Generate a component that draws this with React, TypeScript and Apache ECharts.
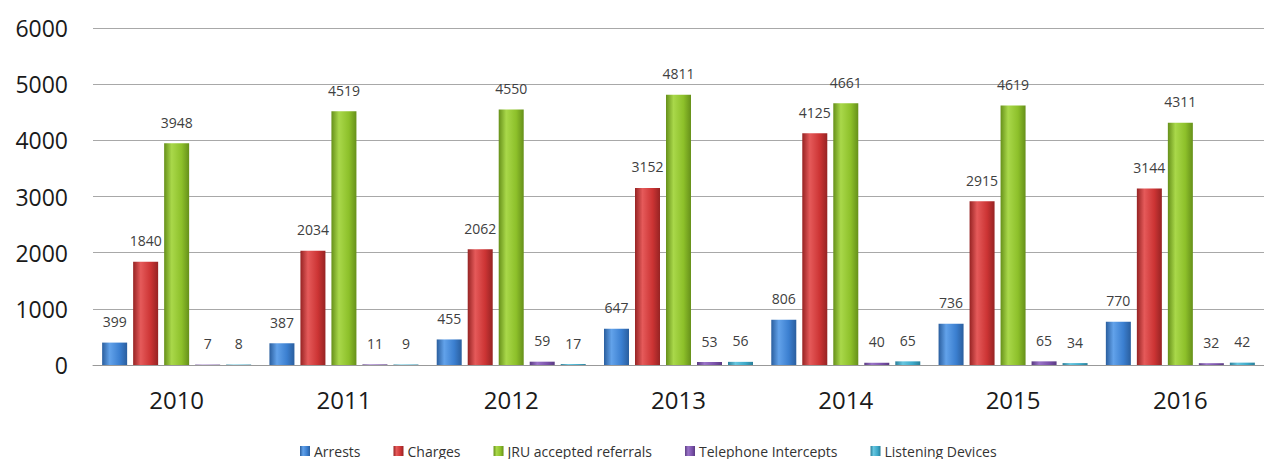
import React, { useEffect, useRef } from "react";
import * as echarts from "echarts";

const years = ["2010", "2011", "2012", "2013", "2014", "2015", "2016"];
const arrests = [399, 387, 455, 647, 806, 736, 770];
const charges = [1840, 2034, 2062, 3152, 4125, 2915, 3144];
const jruReferrals = [3948, 4519, 4550, 4811, 4661, 4619, 4311];
const telephoneIntercepts = [7, 11, 59, 53, 40, 65, 32];
const listeningDevices = [8, 9, 17, 56, 65, 34, 42];

const seriesNames = ["Arrests", "Charges", "JRU accepted referrals", "Telephone Intercepts", "Listening Devices"];
const seriesData = [arrests, charges, jruReferrals, telephoneIntercepts, listeningDevices];
const baseColors = ["#3b7fd0", "#cc3434", "#8dc02a", "#7b52ab", "#3ca9c9"];
const darkColors = ["#2a5e9e", "#962323", "#66901a", "#5a3a82", "#2a7f99"];
const lightColors = ["#62a2ea", "#e55a5a", "#a9d84a", "#9a74c8", "#66c6e0"];

export default function App() {
  const ref = useRef<HTMLDivElement>(null);
  useEffect(() => {
    if (!ref.current) return;
    const chart = echarts.init(ref.current, null, { renderer: "svg" });
    const font = "'Open Sans', 'Liberation Sans', sans-serif";
    chart.setOption({
      animation: false,
      backgroundColor: "#ffffff",
      textStyle: { fontFamily: font },
      grid: { left: 93, right: 0, top: 28, bottom: 94, containLabel: false },
      legend: {
        bottom: 1,
        left: 300,
        padding: 0,
        itemWidth: 10,
        itemHeight: 10,
        itemGap: 33,
        icon: "rect",
        textStyle: { fontSize: 14, color: "#333", fontFamily: font, padding: [0, 0, 0, -1] },
        data: seriesNames,
      },
      xAxis: {
        type: "category",
        data: years,
        axisLine: { show: true, lineStyle: { color: "#999", width: 1 } },
        axisTick: { show: false },
        axisLabel: { fontSize: 24, color: "#1a1a1a", margin: 22, fontFamily: font },
      },
      yAxis: {
        type: "value",
        min: 0,
        max: 6000,
        interval: 1000,
        axisLine: { show: false },
        axisTick: { show: false },
        axisLabel: {
          fontSize: 23,
          color: "#1a1a1a",
          margin: 25,
          fontFamily: font,
          formatter: (v: number) => String(v),
        },
        splitLine: { lineStyle: { color: "#a8a8a8", width: 1 } },
      },
      series: seriesNames.map((name, i) => ({
        name,
        type: "bar",
        data: seriesData[i],
        barWidth: 25,
        barGap: "24%",
        barCategoryGap: "8%",
        itemStyle: {
          color: new echarts.graphic.LinearGradient(0, 0, 1, 0, [
            { offset: 0, color: darkColors[i] },
            { offset: 0.3, color: lightColors[i] },
            { offset: 0.7, color: baseColors[i] },
            { offset: 1, color: darkColors[i] },
          ]),
        },
        label: {
          show: true,
          position: "top",
          distance: 14,
          fontSize: 14,
          color: "#404040",
          fontFamily: font,
        },
      })),
    });
    return () => chart.dispose();
  }, []);
  return (
    <div
      ref={ref}
      style={{ position: "fixed", left: 0, top: 0, width: 1264, height: 459 }}
    />
  );
}
